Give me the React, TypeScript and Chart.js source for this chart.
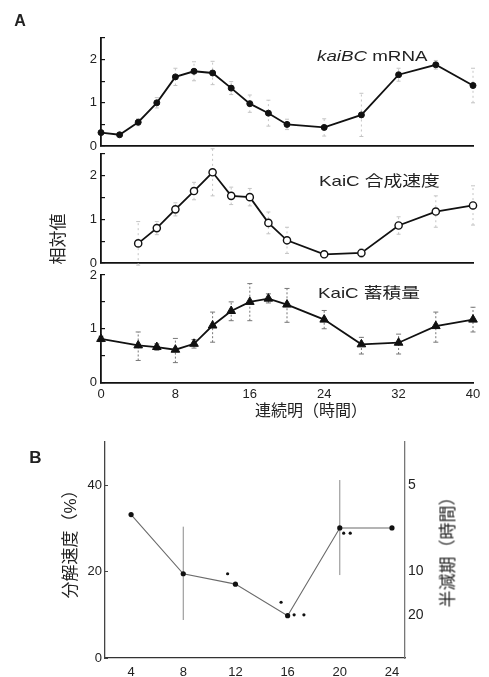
import React, { useEffect, useRef } from 'react';
import { Chart, registerables } from 'chart.js';

Chart.register(...registerables);

const W = 489;
const H = 677;

// ---- Panel A data ----
const A_X_TICKS = [0, 8, 16, 24, 32, 40];
const A_Y_TICKS = [0, 0.5, 1, 1.5, 2, 2.5];
const A3_Y_TICKS = [0, 0.5, 1, 1.5, 2];

const MRNA_HOURS = [0, 2, 4, 6, 8, 10, 12, 14, 16, 18, 20, 24, 28, 32, 36, 40];
const MRNA = [0.31, 0.26, 0.55, 1.0, 1.6, 1.73, 1.69, 1.34, 0.98, 0.76, 0.5, 0.43, 0.72, 1.65, 1.88, 1.4];
const MRNA_ERR = [0.05, 0.05, 0.08, 0.12, 0.2, 0.22, 0.27, 0.15, 0.2, 0.3, 0.12, 0.2, 0.5, 0.15, 0.1, 0.4];

const SYNTH_HOURS = [4, 6, 8, 10, 12, 14, 16, 18, 20, 24, 28, 32, 36, 40];
const SYNTH = [0.45, 0.8, 1.23, 1.65, 2.08, 1.54, 1.51, 0.92, 0.52, 0.2, 0.23, 0.86, 1.18, 1.32];
const SYNTH_ERR = [0.5, 0.15, 0.15, 0.2, 0.54, 0.2, 0.2, 0.25, 0.3, 0.08, 0.1, 0.2, 0.36, 0.45];

const ACCUM_HOURS = [0, 4, 6, 8, 10, 12, 14, 16, 18, 20, 24, 28, 32, 36, 40];
const ACCUM = [0.81, 0.69, 0.66, 0.61, 0.72, 1.06, 1.33, 1.5, 1.56, 1.45, 1.17, 0.71, 0.74, 1.05, 1.17];
const ACCUM_LOW = [0.76, 0.41, 0.6, 0.37, 0.64, 0.75, 1.15, 1.15, 1.48, 1.12, 1.0, 0.53, 0.53, 0.75, 0.94];
const ACCUM_HIGH = [0.86, 0.94, 0.72, 0.82, 0.8, 1.31, 1.5, 1.84, 1.65, 1.75, 1.34, 0.84, 0.9, 1.31, 1.4];

// ---- Panel B data ----
const B_X_TICKS = [4, 8, 12, 16, 20, 24];
const B_Y_TICKS = [0, 20, 40];
const B_RIGHT_TICK_POS = [40, 20, 10];
const B_RIGHT_TICK_LABELS = ['5', '10', '20'];
const B_HOURS = [4, 8, 12, 16, 20, 24];
const B_RATE = [33.2, 19.5, 17.1, 9.8, 30.1, 30.1];
const B_LOW = [null, 8.8, null, null, 19.2, null];
const B_HIGH = [null, 30.4, null, null, 41.2, null];
const B_SIG_X = [11.4, 15.5, 16.5, 17.25, 20.3, 20.8];
const B_SIG_Y = [19.5, 12.9, 10.0, 10.0, 28.9, 28.9];

const TICK_FONT = { family: "'Liberation Sans', Arial, sans-serif", size: 13 };
const TEXT = '#222';

const fix = (size: number) => (scale: any) => {
  if (scale.isHorizontal()) scale.height = size;
  else scale.width = size;
  scale.paddingTop = 0;
  scale.paddingBottom = 0;
  scale.paddingLeft = 0;
  scale.paddingRight = 0;
};

const setTicks = (vals: number[]) => (scale: any) => {
  scale.ticks = vals.map((v) => ({ value: v }));
};

const errorBarPlugin = {
  id: 'errorBars',
  beforeDatasetsDraw(chart: any, _args: any, opts: any) {
    const { ctx } = chart;
    const xs = chart.scales.x;
    const ys = chart.scales.y;
    chart.data.datasets.forEach((ds: any) => {
      if (!ds.errLow) return;
      ctx.save();
      ctx.strokeStyle = opts.color || '#666';
      ctx.lineWidth = opts.width || 1;
      ds.data.forEach((pt: any, i: number) => {
        const lo = ds.errLow[i];
        const hi = ds.errHigh[i];
        if (lo == null || hi == null) return;
        const px = xs.getPixelForValue(pt.x);
        const y1 = ys.getPixelForValue(lo);
        const y2 = ys.getPixelForValue(hi);
        ctx.setLineDash(opts.dash || []);
        ctx.beginPath();
        ctx.moveTo(px, y1);
        ctx.lineTo(px, y2);
        ctx.stroke();
        if (opts.cap) {
          ctx.setLineDash([]);
          ctx.beginPath();
          ctx.moveTo(px - opts.cap, y1);
          ctx.lineTo(px + opts.cap, y1);
          ctx.moveTo(px - opts.cap, y2);
          ctx.lineTo(px + opts.cap, y2);
          ctx.stroke();
        }
      });
      ctx.restore();
    });
  },
};

const A_L = 101;
const A_R = 473;
const A_YW = 40;

function panelA(p: {
  top: number;
  bottom: number;
  hours: number[];
  values: number[];
  low: number[];
  high: number[];
  yMax: number;
  yTicks: number[];
  showX: boolean;
  pointStyle: string;
  radius: number;
  fill: string;
  pbw: number;
  err: any;
}) {
  const xh = p.showX ? 22 : 0;
  return {
    type: 'line',
    data: {
      datasets: [
        {
          data: p.hours.map((h, i) => ({ x: h, y: p.values[i] })),
          errLow: p.low,
          errHigh: p.high,
          borderColor: '#111',
          borderWidth: 1.8,
          tension: 0,
          pointStyle: p.pointStyle,
          pointRadius: p.radius,
          pointBackgroundColor: p.fill,
          pointBorderColor: '#111',
          pointBorderWidth: p.pbw,
          clip: false,
        },
      ],
    },
    plugins: [errorBarPlugin],
    options: {
      animation: false,
      responsive: false,
      events: [],
      layout: { padding: { left: A_L - A_YW, right: W - A_R, top: p.top, bottom: H - p.bottom - xh } },
      plugins: { legend: { display: false }, tooltip: { enabled: false }, errorBars: p.err },
      scales: {
        x: {
          type: 'linear',
          min: 0,
          max: 40,
          afterBuildTicks: setTicks(A_X_TICKS),
          ticks: { display: p.showX, font: TICK_FONT, color: TEXT, padding: 4, maxRotation: 0, autoSkip: false },
          grid: { display: false, drawTicks: false },
          border: { display: true, color: '#111', width: 1.8 },
          afterFit: fix(xh),
        },
        y: {
          type: 'linear',
          min: 0,
          max: p.yMax,
          afterBuildTicks: setTicks(p.yTicks),
          ticks: {
            font: TICK_FONT,
            color: TEXT,
            padding: 8,
            callback: (v: number) => (Math.abs(v - Math.round(v)) < 1e-6 ? String(Math.round(v)) : ''),
          },
          grid: { drawOnChartArea: false, tickLength: -4, color: '#111', lineWidth: 1.2 },
          border: { display: true, color: '#111', width: 1.8 },
          afterFit: fix(A_YW),
        },
      },
    },
  };
}

const B_L = 105;
const B_R = 405;
const B_T = 442;
const B_B = 658;

function panelB() {
  return {
    type: 'line',
    data: {
      datasets: [
        {
          data: B_HOURS.map((h, i) => ({ x: h, y: B_RATE[i] })),
          errLow: B_LOW,
          errHigh: B_HIGH,
          borderColor: '#6a6a6a',
          borderWidth: 1.1,
          tension: 0,
          pointRadius: 2.6,
          pointBackgroundColor: '#111',
          pointBorderColor: '#111',
          pointBorderWidth: 0,
          clip: false,
        },
        {
          data: B_SIG_X.map((x, i) => ({ x, y: B_SIG_Y[i] })),
          showLine: false,
          pointRadius: 1.6,
          pointBackgroundColor: '#111',
          pointBorderWidth: 0,
          clip: false,
        },
      ],
    },
    plugins: [errorBarPlugin],
    options: {
      animation: false,
      responsive: false,
      events: [],
      layout: { padding: { left: B_L - 40, right: W - B_R - 40, top: B_T, bottom: H - B_B - 19 } },
      plugins: {
        legend: { display: false },
        tooltip: { enabled: false },
        errorBars: { color: '#8a8a8a', width: 1, dash: [] },
      },
      scales: {
        x: {
          type: 'linear',
          min: 2,
          max: 25,
          afterBuildTicks: setTicks(B_X_TICKS),
          ticks: { font: TICK_FONT, color: TEXT, padding: 7, maxRotation: 0, autoSkip: false },
          grid: { display: false, drawTicks: false },
          border: { display: true, color: '#333', width: 1.3 },
          afterFit: fix(19),
        },
        y: {
          type: 'linear',
          position: 'left',
          min: 0,
          max: 50,
          afterBuildTicks: setTicks(B_Y_TICKS),
          ticks: { font: TICK_FONT, color: TEXT, padding: 6 },
          grid: { drawOnChartArea: false, tickLength: -3, color: '#444', lineWidth: 1 },
          border: { display: true, color: '#444', width: 1.3 },
          afterFit: fix(40),
        },
        y2: {
          type: 'linear',
          position: 'right',
          min: 0,
          max: 50,
          afterBuildTicks: setTicks(B_RIGHT_TICK_POS),
          ticks: {
            font: { ...TICK_FONT, size: 14 },
            color: TEXT,
            padding: 3,
            callback: (v: number) => {
              const i = B_RIGHT_TICK_POS.indexOf(v);
              return i >= 0 ? B_RIGHT_TICK_LABELS[i] : '';
            },
          },
          grid: { display: false, drawTicks: false },
          border: { display: true, color: '#777', width: 1.3 },
          afterFit: fix(40),
        },
      },
    },
  };
}

const makers = [
  () =>
    panelA({
      top: 38,
      bottom: 146,
      hours: MRNA_HOURS,
      values: MRNA,
      low: MRNA.map((v, i) => v - MRNA_ERR[i]),
      high: MRNA.map((v, i) => v + MRNA_ERR[i]),
      yMax: 2.5,
      yTicks: A_Y_TICKS,
      showX: false,
      pointStyle: 'circle',
      radius: 3,
      fill: '#111',
      pbw: 1,
      err: { color: '#c4c4c4', width: 1, dash: [2, 3], cap: 2 },
    }),
  () =>
    panelA({
      top: 154,
      bottom: 263,
      hours: SYNTH_HOURS,
      values: SYNTH,
      low: SYNTH.map((v, i) => v - SYNTH_ERR[i]),
      high: SYNTH.map((v, i) => v + SYNTH_ERR[i]),
      yMax: 2.5,
      yTicks: A_Y_TICKS,
      showX: false,
      pointStyle: 'circle',
      radius: 3.6,
      fill: '#fff',
      pbw: 1.4,
      err: { color: '#c4c4c4', width: 1, dash: [2, 3], cap: 2 },
    }),
  () =>
    panelA({
      top: 275,
      bottom: 382.5,
      hours: ACCUM_HOURS,
      values: ACCUM,
      low: ACCUM_LOW,
      high: ACCUM_HIGH,
      yMax: 2,
      yTicks: A3_Y_TICKS,
      showX: true,
      pointStyle: 'triangle',
      radius: 5,
      fill: '#111',
      pbw: 1,
      err: { color: '#777', width: 1, dash: [2, 2], cap: 2.5 },
    }),
  panelB,
];

function ChartLayer({ make }: { make: () => any }) {
  const ref = useRef<HTMLCanvasElement | null>(null);
  useEffect(() => {
    const chart = new Chart(ref.current as HTMLCanvasElement, make());
    return () => chart.destroy();
  }, [make]);
  return (
    <canvas
      ref={ref}
      width={W}
      height={H}
      style={{ position: 'absolute', left: 0, top: 0, width: W, height: H }}
    />
  );
}

const FONT = "'Liberation Sans', 'Noto Sans CJK JP', sans-serif";

function Label(props: {
  x: number;
  y: number;
  size: number;
  bold?: boolean;
  rotate?: boolean;
  left?: boolean;
  sx?: number;
  children: React.ReactNode;
}) {
  const { x, y, size, bold, rotate, left, sx, children } = props;
  let transform = left ? 'translate(0,-50%)' : 'translate(-50%,-50%)';
  if (rotate) transform += ' rotate(-90deg)';
  if (sx) transform += ` scaleX(${sx})`;
  return (
    <div
      style={{
        position: 'absolute',
        left: x,
        top: y,
        transform,
        transformOrigin: left ? 'left center' : 'center center',
        fontFamily: FONT,
        fontSize: size,
        fontWeight: bold ? 700 : 400,
        lineHeight: 1,
        whiteSpace: 'nowrap',
        color: TEXT,
      }}
    >
      {children}
    </div>
  );
}

export default function App() {
  return (
    <div
      style={{
        position: 'absolute',
        left: 0,
        top: 0,
        width: W,
        height: H,
        overflow: 'hidden',
        background: '#fff',
      }}
    >
      {makers.map((m, i) => (
        <ChartLayer key={i} make={m} />
      ))}
      <Label x={20} y={21} size={16} bold>
        A
      </Label>
      <Label x={35.5} y={456.5} size={17} bold>
        B
      </Label>
      <Label x={317} y={55} size={15} left sx={1.25}>
        <i>kaiBC</i> mRNA
      </Label>
      <Label x={319} y={180} size={15} left sx={1.25}>
        KaiC 合成速度
      </Label>
      <Label x={318} y={291.5} size={15} left sx={1.25}>
        KaiC 蓄積量
      </Label>
      <Label x={311} y={411} size={16}>
        連続明（時間）
      </Label>
      <Label x={58} y={239} size={17} rotate>
        相対値
      </Label>
      <Label x={69.5} y={540} size={17} rotate>
        分解速度（%）
      </Label>
      <Label x={447.5} y={548} size={17} rotate>
        半減期（時間）
      </Label>
    </div>
  );
}
